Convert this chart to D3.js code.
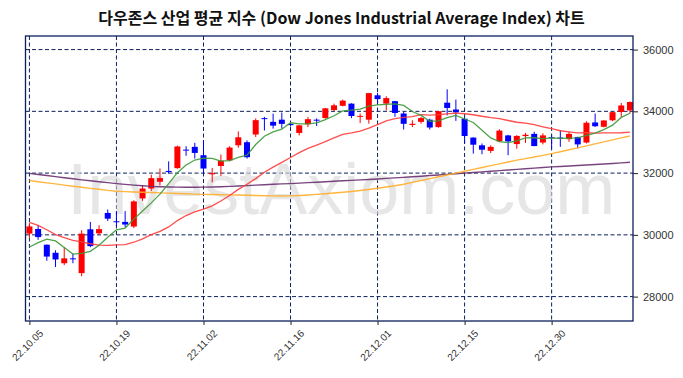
<!DOCTYPE html>
<html>
<head>
<meta charset="utf-8">
<script src="https://cdn.jsdelivr.net/npm/d3@7"></script>
<style>
  body { margin: 0; background: #fff; }
</style>
</head>
<body>
<svg id="chart" width="683" height="378"></svg>
<script>
// trading days shown on the chart
const dates = ["22.10.05","22.10.06","22.10.07","22.10.10","22.10.11","22.10.12","22.10.13","22.10.14","22.10.17","22.10.18",
  "22.10.19","22.10.20","22.10.21","22.10.24","22.10.25","22.10.26","22.10.27","22.10.28","22.10.31","22.11.01",
  "22.11.02","22.11.03","22.11.04","22.11.07","22.11.08","22.11.09","22.11.10","22.11.11","22.11.14","22.11.15",
  "22.11.16","22.11.17","22.11.18","22.11.21","22.11.22","22.11.23","22.11.25","22.11.28","22.11.29","22.11.30",
  "22.12.01","22.12.02","22.12.05","22.12.06","22.12.07","22.12.08","22.12.09","22.12.12","22.12.13","22.12.14",
  "22.12.15","22.12.16","22.12.19","22.12.20","22.12.21","22.12.22","22.12.23","22.12.27","22.12.28","22.12.29",
  "22.12.30","23.01.03","23.01.04","23.01.05","23.01.06","23.01.09","23.01.10","23.01.11","23.01.12","23.01.13"];

const opens = [30040,30190,29680,29420,29080,29240,28760,30180,30050,30710,
  30440,30420,30270,31180,31500,31720,32070,32160,32760,32850,
  32580,31960,32230,32410,32900,33000,33250,33780,33660,33730,
  33590,33300,33580,33730,33784,34040,34180,34250,33830,33730,
  34520,34250,34330,33930,33560,33660,33730,33490,34280,34060,
  33760,33150,32900,32720,33030,33220,32940,33200,33270,32990,
  33160,33150,33100,33170,32990,33640,33500,33710,33980,34030];

const highs = [30380,30320,29690,29500,29610,29390,30150,30420,30310,30820,
  30770,30770,31120,31610,31950,32150,32380,32890,32870,32980,
  33060,32165,32600,32870,33350,33060,33770,33820,33925,33960,
  33650,33560,33815,33770,34110,34250,34380,34260,33930,34600,
  34600,34490,34340,33980,33710,33820,33760,34010,34712,34380,
  33790,33160,32960,32900,33420,33240,33230,33300,33340,33290,
  33230,33390,33330,33180,33680,33930,33710,33980,34270,34320];

const lows = [29910,29840,29160,28960,29020,29080,28660,29600,29990,30450,
  30280,30250,30220,31100,31420,31600,31980,32140,32560,32470,
  31990,31700,31910,32380,32820,32470,33170,33380,33440,33440,
  33510,33220,33490,33525,33760,34010,34160,33780,33620,33600,
  34250,34030,33820,33410,33490,33600,33410,33470,33870,33690,
  32960,32630,32610,32650,33000,32580,32790,32980,32870,32930,
  32800,32850,33010,32800,32960,33490,33480,33680,33820,33930];

const closes = [30273,29927,29297,29203,29239,29211,30039,29635,30186,30524,
  30424,30334,31083,31500,31837,31839,32033,32862,32733,32653,
  32148,32001,32403,32827,33161,32514,33715,33748,33537,33593,
  33554,33546,33746,33700,34098,34194,34347,33849,33853,34590,
  34395,34430,33947,33596,33598,33781,33476,34005,34109,33966,
  33202,32920,32758,32850,33376,33027,33204,33242,32876,33221,
  33147,33136,33270,32930,33631,33518,33704,33973,34190,34303];

// closes of the 19 sessions before the first date (for the 5/20-day averages)
const priorCloses = [31775,32152,32381,31105,31135,30962,30822,31020,30706,30184,
  30077,29590,29261,29135,29684,29226,28726,29491,30316];

// longer averages
const ma60 = [31760,31720,31685,31650,31610,31575,31540,31505,31475,31440,
  31410,31400,31390,31380,31370,31360,31350,31340,31330,31320,
  31312,31305,31300,31295,31290,31283,31275,31268,31262,31260,
  31262,31275,31290,31310,31330,31355,31380,31405,31435,31470,
  31510,31550,31590,31640,31700,31760,31820,31880,31940,32000,
  32060,32120,32180,32240,32300,32360,32420,32470,32520,32575,
  32630,32690,32755,32815,32880,32945,33010,33075,33140,33200];

const ma120 = [31990,31955,31920,31885,31850,31815,31780,31750,31720,31690,
  31660,31635,31610,31590,31570,31560,31550,31545,31540,31540,
  31545,31550,31560,31570,31580,31595,31610,31625,31640,31650,
  31660,31675,31690,31705,31720,31735,31750,31765,31780,31795,
  31810,31830,31845,31860,31880,31900,31920,31940,31960,31980,
  32000,32020,32040,32060,32080,32100,32120,32140,32160,32180,
  32200,32215,32230,32245,32260,32280,32295,32310,32330,32350];

const yTicks = [28000, 30000, 32000, 34000, 36000];
const xTickStep = 10;

const title = "다우존스 산업 평균 지수 (Dow Jones Industrial Average Index) 차트";

// ---------------------------------------------------------------
const W = 683, H = 378;
const plot = { left: 25.5, right: 633, top: 36, bottom: 321 };
const navy = "#0b1f5e";

const svg = d3.select("#chart");

// candle table
const candles = dates.map((d, i) => ({
  i: i, date: d, open: opens[i], high: highs[i], low: lows[i], close: closes[i]
}));

// moving averages
const allCloses = priorCloses.concat(closes);
const p = priorCloses.length;
function rolling(n) {
  return closes.map((c, i) => d3.mean(allCloses.slice(p + i - n + 1, p + i + 1)));
}
const ma5 = rolling(5);
const ma20 = rolling(20);

// scales
const x = d3.scaleLinear().domain([-0.45, 69.35]).range([plot.left, plot.right]);
const y = d3.scaleLinear().domain([27210, 36440]).range([plot.bottom, plot.top]);

// title
svg.append("text")
  .attr("x", W / 2)
  .attr("y", 24)
  .attr("text-anchor", "middle")
  .style("font-family", "'Noto Sans CJK KR', sans-serif")
  .style("font-size", "16px")
  .style("font-weight", "bold")
  .style("fill", "#111")
  .text(title);

svg.append("clipPath").attr("id", "clip")
  .append("rect")
    .attr("x", plot.left).attr("y", plot.top)
    .attr("width", plot.right - plot.left).attr("height", plot.bottom - plot.top);

// grid
const grid = svg.append("g").attr("class", "grid");
const xTickIdx = d3.range(0, dates.length, xTickStep);

grid.selectAll("line.h")
  .data(yTicks)
  .join("line")
    .attr("class", "h")
    .attr("x1", plot.left).attr("x2", plot.right)
    .attr("y1", d => y(d)).attr("y2", d => y(d))
    .attr("stroke", navy).attr("stroke-width", 1)
    .attr("stroke-dasharray", "4,2.5");

grid.selectAll("line.v")
  .data(xTickIdx)
  .join("line")
    .attr("class", "v")
    .attr("x1", d => x(d)).attr("x2", d => x(d))
    .attr("y1", plot.top).attr("y2", plot.bottom)
    .attr("stroke", navy).attr("stroke-width", 1)
    .attr("stroke-dasharray", "4,2.5");

// watermark
svg.append("text")
  .attr("x", (plot.left + plot.right) / 2 + 12)
  .attr("y", 214)
  .attr("text-anchor", "middle")
  .style("font-family", "'Liberation Sans', Arial, sans-serif")
  .style("font-size", "72px")
  .style("fill", "#d9d9d9")
  .style("fill-opacity", 0.65)
  .text("InvestAxiom.com");

// candles
const body = svg.append("g").attr("clip-path", "url(#clip)");
const colorOf = d => d.close >= d.open ? "#ff0000" : "#0000ff";
const bw = 6;

body.selectAll("line.wick")
  .data(candles)
  .join("line")
    .attr("class", "wick")
    .attr("x1", d => x(d.i)).attr("x2", d => x(d.i))
    .attr("y1", d => y(d.high)).attr("y2", d => y(d.low))
    .attr("stroke", colorOf).attr("stroke-width", 1);

body.selectAll("rect.body")
  .data(candles)
  .join("rect")
    .attr("class", "body")
    .attr("x", d => x(d.i) - bw / 2)
    .attr("y", d => y(Math.max(d.open, d.close)))
    .attr("width", bw)
    .attr("height", d => Math.max(1, Math.abs(y(d.open) - y(d.close))))
    .attr("fill", colorOf);

// moving average lines
const line = d3.line().x((d, i) => x(i)).y(d => y(d));
const maSeries = [
  { values: ma120, color: "#6a3070", width: 1.4 },
  { values: ma60, color: "#ffae2a", width: 1.4 },
  { values: ma20, color: "#ff3b3b", width: 1.3 },
  { values: ma5, color: "#3a9a35", width: 1.3 }
];
body.selectAll("path.ma")
  .data(maSeries)
  .join("path")
    .attr("class", "ma")
    .attr("d", d => line(d.values))
    .attr("fill", "none")
    .attr("stroke", d => d.color)
    .attr("stroke-width", d => d.width)
    .attr("stroke-opacity", 0.9);

// frame
svg.append("rect")
  .attr("x", plot.left).attr("y", plot.top)
  .attr("width", plot.right - plot.left).attr("height", plot.bottom - plot.top)
  .attr("fill", "none").attr("stroke", navy).attr("stroke-width", 1.3);

// right axis
const yAxis = svg.append("g")
  .attr("transform", "translate(" + plot.right + ",0)")
  .call(d3.axisRight(y).tickValues(yTicks).tickSize(5).tickPadding(5).tickFormat(d3.format("d")));
yAxis.select(".domain").remove();
yAxis.selectAll("line").attr("stroke", "#222");
yAxis.selectAll("text")
  .style("font-family", "'Liberation Sans', Arial, sans-serif")
  .style("font-size", "11px")
  .style("fill", "#333");

// bottom axis
const xAxis = svg.append("g")
  .attr("transform", "translate(0," + plot.bottom + ")")
  .call(d3.axisBottom(x).tickValues(xTickIdx).tickSize(4).tickFormat(i => dates[i]));
xAxis.select(".domain").remove();
xAxis.selectAll("line").attr("stroke", "#222");
xAxis.selectAll("text")
  .attr("transform", "translate(4,3)rotate(-45)")
  .style("text-anchor", "end")
  .style("font-family", "'Liberation Sans', Arial, sans-serif")
  .style("font-size", "10px")
  .style("fill", "#333");
</script>
</body>
</html>
